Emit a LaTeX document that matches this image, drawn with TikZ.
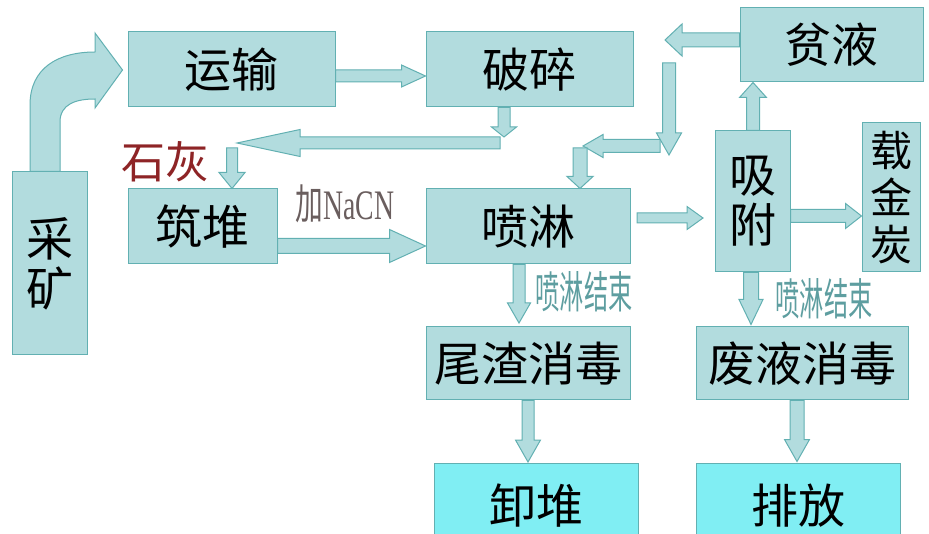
\documentclass[tikz,border=0pt]{standalone}
\usepackage{fontspec}
\newfontfamily\cjk{Noto Sans CJK SC}
\newfontfamily\lserif{Liberation Serif}
\usetikzlibrary{calc}
\definecolor{boxc}{HTML}{B2DCDE}
\definecolor{bordc}{HTML}{62B0B2}
\definecolor{cyanc}{HTML}{80EEF3}
\definecolor{redc}{HTML}{8E2426}
\definecolor{grayc}{HTML}{6A5E5E}
\definecolor{tealc}{HTML}{5E9EA0}
\tikzset{
  box/.style={draw=bordc, fill=boxc, line width=1pt, inner sep=0pt,
    font=\cjk\fontsize{47}{50}\selectfont, align=center},
  endbox/.style={box, fill=cyanc},
  barrow/.style n args={3}{draw=bordc, fill=boxc, line width=1pt, line join=miter,
    to path={let \p1=($(\tikztotarget)!#3!(\tikztostart)$) in
      ($(\tikztostart)!#1!90:(\tikztotarget)$) -- ($(\p1)!#1!90:(\tikztotarget)$)
      -- ($(\p1)!#2!90:(\tikztotarget)$) -- (\tikztotarget)
      -- ($(\p1)!#2!-90:(\tikztotarget)$) -- ($(\p1)!#1!-90:(\tikztotarget)$)
      -- ($(\tikztostart)!#1!-90:(\tikztotarget)$) -- cycle}},
  lbl/.style={inner sep=0pt}
}
\begin{document}
\begin{tikzpicture}[x=1pt,y=-1pt]
\useasboundingbox (0,0) rectangle (929,534);
\clip (0,0) rectangle (929,534);
\fill[white] (0,0) rectangle (929,534);

% boxes
\node[box, minimum width=207pt, minimum height=75pt] (yunshu) at (231.5,69.5) {运输};
\node[box, minimum width=207pt, minimum height=75pt] (posui) at (529.5,69.5) {破碎};
\node[box, minimum width=183pt, minimum height=74pt] (pinye) at (831.5,45) {贫液};
\node[box, minimum width=75pt, minimum height=183pt] (caikuang) at (49.5,263.5) {采\\矿};
\node[box, minimum width=149pt, minimum height=75pt] (zhudui) at (202.5,226.5) {筑堆};
\node[box, minimum width=204pt, minimum height=75pt] (penlin) at (528,226.5) {喷淋};
\node[box, minimum width=75pt, minimum height=141pt] (xifu) at (752.5,201.5) {吸\\附};
\node[box, minimum width=58pt, minimum height=149pt, font=\cjk\fontsize{42}{47}\selectfont] (zaijintan) at (891,197.5) {载\\金\\炭};
\node[box, minimum width=204pt, minimum height=73pt] (weizha) at (528,363.5) {尾渣消毒};
\node[box, minimum width=212pt, minimum height=73pt] (feiye) at (802,363.5) {废液消毒};
\node[endbox, minimum width=204pt, minimum height=77pt, text depth=0pt] (xiedui) at (536,501.5) {\raisebox{-4pt}{卸堆}};
\node[endbox, minimum width=204pt, minimum height=77pt, text depth=0pt] (paifang) at (798,501.5) {\raisebox{-4pt}{排放}};

% labels
\node[lbl, text=redc, font=\cjk\fontsize{44}{44}\selectfont] (shihui) at (165,162) {石灰};
\node[lbl, text=grayc] (jia) at (345,204) {\scalebox{0.66}[1]{\fontsize{42}{42}\selectfont\cjk 加\lserif NaCN}};
\node[lbl, text=tealc] (end1) at (584,292) {\scalebox{0.55}[1]{\cjk\fontsize{44}{44}\selectfont 喷淋结束}};
\node[lbl, text=tealc] (end2) at (824,299) {\scalebox{0.55}[1]{\cjk\fontsize{44}{44}\selectfont 喷淋结束}};

% free-end coordinates
\coordinate (c2e) at (504,137);
\coordinate (c3s) at (500,143);
\coordinate (c3e) at (237,143);
\coordinate (c4s) at (232,148);
\coordinate (c6e) at (665,40);
\coordinate (c7s) at (669,63);
\coordinate (c7e) at (669,155);
\coordinate (c8s) at (660,146);
\coordinate (c8e) at (583,146);
\coordinate (c9s) at (580,148);
\coordinate (c10s) at (637,218);
\coordinate (c10e) at (703,218);
\coordinate (c13e) at (519,323);
\coordinate (c15e) at (528,462);

% curved arrow from caikuang to yunshu
\draw[draw=bordc, fill=boxc, line width=1pt, line join=miter]
  ($(caikuang.north)+(-19.5,0)$) -- (30,105) .. controls (30,68) and (58,52) .. (95,52)
  -- (95,33) -- ($(yunshu.west)+(-5,0.5)$) -- (95,108) -- (95,99)
  .. controls (76,99) and (60,104) .. (60,122) -- ($(caikuang.north)+(10.5,0)$) -- cycle;

% block arrows
\draw[barrow={6pt}{11pt}{24pt}] ($(yunshu.east)+(0,6.5)$) to ($(posui.west)+(0,6.5)$);
\draw[barrow={6pt}{12.5pt}{10pt}] ($(posui.south)+(-25.5,0)$) to (c2e);
\draw[barrow={6pt}{13.5pt}{63pt}] (c3s) to (c3e);
\draw[barrow={5.5pt}{13pt}{16pt}] (c4s) to ($(zhudui.north)+(29.5,0)$);
\draw[barrow={7.5pt}{16.5pt}{36pt}] ($(zhudui.east)+(0,19.5)$) to ($(penlin.west)+(0,19.5)$);
\draw[barrow={7pt}{16pt}{17pt}] ($(pinye.west)+(0,-5)$) to (c6e);
\draw[barrow={6.5pt}{12.5pt}{22pt}] (c7s) to (c7e);
\draw[barrow={6.5pt}{11.5pt}{20pt}] (c8s) to (c8e);
\draw[barrow={7pt}{13pt}{12pt}] (c9s) to ($(penlin.north)+(52,0)$);
\draw[barrow={5pt}{11.5pt}{16pt}] (c10s) to (c10e);
\draw[barrow={6.5pt}{13.5pt}{15pt}] ($(xifu.north)+(0.5,0)$) to ($(pinye.south)+(-78.5,0)$);
\draw[barrow={6.5pt}{12.5pt}{16pt}] ($(xifu.east)+(0,14.5)$) to ($(zaijintan.west)+(0,18.5)$);
\draw[barrow={6pt}{11.5pt}{20pt}] ($(penlin.south)+(-9,0)$) to (c13e);
\draw[barrow={7.5pt}{12pt}{25pt}] ($(xifu.south)+(-1.5,0)$) to ($(feiye.north)+(-51,-2)$);
\draw[barrow={6pt}{12.5pt}{22pt}] (weizha.south) to (c15e);
\draw[barrow={7pt}{12.5pt}{22pt}] ($(feiye.south)+(-5,0)$) to ($(paifang.north)+(-1,-1)$);
\end{tikzpicture}
\end{document}
